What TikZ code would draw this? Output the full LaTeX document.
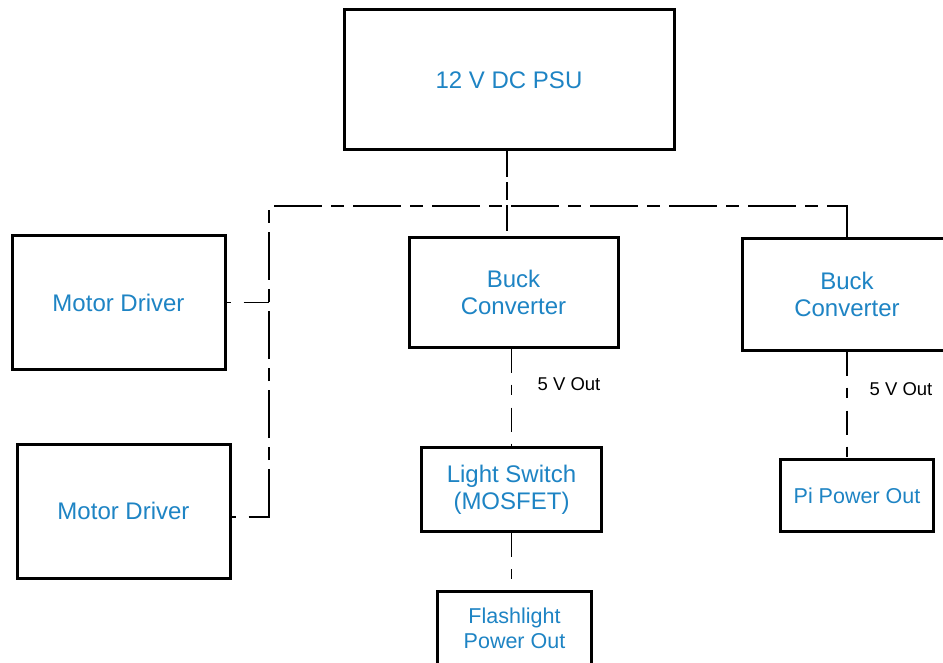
\documentclass[tikz,border=0pt]{standalone}
\usepackage{fontspec}
\setmainfont{Liberation Sans}
\definecolor{txtblue}{RGB}{30,132,196}
\tikzset{
  blk/.style={draw=black, line width=3pt, fill=white, text=txtblue, align=center, inner sep=0pt,
              font=\fontsize{24}{27}\selectfont},
  smallblk/.style={blk, font=\fontsize{21.5}{25}\selectfont},
  bus/.style={line width=2.8pt, dash pattern=on 48pt off 9pt on 13pt off 9pt},
  feed/.style={line width=1.6pt, dash pattern=on 24pt off 12pt on 10pt off 13pt},
  psufeed/.style={line width=1.8pt, dash pattern=on 26pt off 5pt on 18pt off 5pt},
  mdlink/.style={line width=1.4pt, dash pattern=on 4pt off 13pt on 28pt off 13pt},
  lbl/.style={font=\fontsize{18.5}{21}\selectfont, text=black, inner sep=0pt}
}
\begin{document}
\begin{tikzpicture}[x=1pt,y=-1pt]
\clip (0,0) rectangle (943,663);
\fill[white] (0,0) rectangle (943,663);

\node[blk, minimum width=330pt, minimum height=140pt] (psu) at (509,80) {12 V DC PSU};
\node[blk, minimum width=213pt, minimum height=133pt] (md1) at (118.5,302.5) {Motor Driver};
\node[blk, minimum width=213pt, minimum height=134pt] (md2) at (123.5,511) {Motor Driver};
\node[blk, minimum width=209pt, minimum height=109pt] (buck1) at (513.5,292.5) {Buck\\Converter};
\node[blk, minimum width=210pt, minimum height=111pt] (buck2) at (847,294.5) {Buck\\Converter};
\node[blk, minimum width=180pt, minimum height=84pt] (ls) at (511.5,489.5) {Light Switch\\(MOSFET)};
\node[smallblk, minimum width=154pt, minimum height=73pt] (flash) at (514.5,628) {Flashlight\\Power Out};
\node[smallblk, minimum width=153pt, minimum height=72pt] (pi) at (857,495.5) {Pi Power Out};

\coordinate (bl) at (269,206);
\coordinate (br) at (buck2.north |- bl);
\coordinate (bb) at (269,517);
\coordinate (mdtap) at (md1.east -| bl);

% PSU feed
\draw[psufeed] ([xshift=-2pt]psu.south) -- ([xshift=-2pt]psu.south |- buck1.north);

% bus
\draw[bus] (bb) -- (bl) -- (br);
\draw[line width=2.8pt] ([xshift=-12pt]br) -- (br) -- (buck2.north);

% motor driver links
\draw[mdlink] (md1.east) -- (mdtap);
\draw[mdlink] (md2.east |- bb) -- ([xshift=1.4pt]bb);

% 5 V feeds
\draw[feed] (buck1.south -| ls.north) -- (ls.north);
\draw[feed] (ls.south) -- (ls.south |- flash.north);
\draw[feed] (buck2.south) -- (buck2.south |- pi.north);

\node[lbl] (l1) at (569,384) {5 V Out};
\node[lbl] (l2) at (901,389) {5 V Out};
\end{tikzpicture}
\end{document}
